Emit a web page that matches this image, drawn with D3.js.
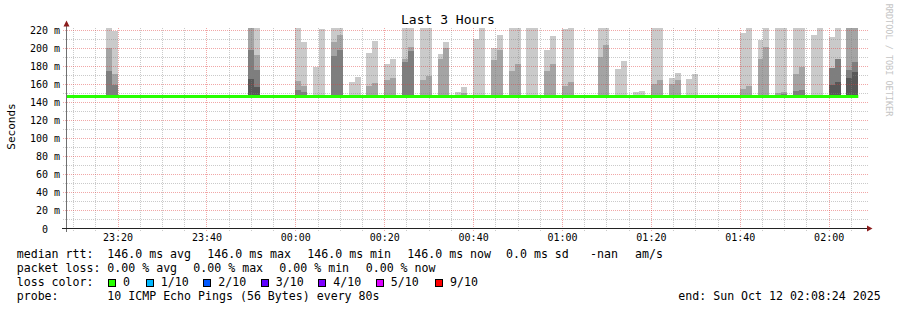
<!DOCTYPE html>
<html>
<head>
<meta charset="utf-8">
<script src="https://cdn.jsdelivr.net/npm/d3@7/dist/d3.min.js"></script>
<style>
  body { margin: 0; background: #fff; }
  svg text { font-family: 'DejaVu Sans Mono', monospace; white-space: pre; }
</style>
</head>
<body>
<div class="container"></div>
<script>
const w = 897;
const h = 310;

// time window of the graph (UTC as printed)
const startTime = '2025-10-11 23:08:24';
const endTime = '2025-10-12 02:08:24';
const dataStart = '2025-10-11 23:08:24';
const dataEnd = '2025-10-12 02:06:40';
const stepSeconds = 80;
const yMax = 222.2; // ms, top of canvas

const medianRtt = 146.0; // ms, flat over the whole window

// columns that show smoke (step start times); pings 1..5 sit on the median
const smokeTimes = [
  '2025-10-11 23:17:20', '2025-10-11 23:18:40', '2025-10-11 23:49:20', '2025-10-11 23:50:40',
  '2025-10-12 00:00:00', '2025-10-12 00:01:20', '2025-10-12 00:04:00', '2025-10-12 00:05:20',
  '2025-10-12 00:08:00', '2025-10-12 00:09:20', '2025-10-12 00:12:00', '2025-10-12 00:13:20',
  '2025-10-12 00:16:00', '2025-10-12 00:17:20', '2025-10-12 00:20:00', '2025-10-12 00:21:20',
  '2025-10-12 00:24:00', '2025-10-12 00:25:20', '2025-10-12 00:28:00', '2025-10-12 00:29:20',
  '2025-10-12 00:32:00', '2025-10-12 00:33:20', '2025-10-12 00:36:00', '2025-10-12 00:37:20',
  '2025-10-12 00:38:40', '2025-10-12 00:40:00', '2025-10-12 00:41:20', '2025-10-12 00:44:00',
  '2025-10-12 00:45:20', '2025-10-12 00:48:00', '2025-10-12 00:49:20', '2025-10-12 00:52:00',
  '2025-10-12 00:53:20', '2025-10-12 00:56:00', '2025-10-12 00:57:20', '2025-10-12 01:00:00',
  '2025-10-12 01:01:20', '2025-10-12 01:08:00', '2025-10-12 01:09:20', '2025-10-12 01:12:00',
  '2025-10-12 01:13:20', '2025-10-12 01:16:00', '2025-10-12 01:17:20', '2025-10-12 01:20:00',
  '2025-10-12 01:21:20', '2025-10-12 01:24:00', '2025-10-12 01:25:20', '2025-10-12 01:28:00',
  '2025-10-12 01:29:20', '2025-10-12 01:32:00', '2025-10-12 01:40:00', '2025-10-12 01:41:20',
  '2025-10-12 01:44:00', '2025-10-12 01:45:20', '2025-10-12 01:48:00', '2025-10-12 01:49:20',
  '2025-10-12 01:52:00', '2025-10-12 01:53:20', '2025-10-12 01:56:00', '2025-10-12 01:57:20',
  '2025-10-12 02:00:00', '2025-10-12 02:01:20', '2025-10-12 02:04:00', '2025-10-12 02:05:20'
];
const ping10 = [
  230, 219, 230, 230, 230, 206.7, 178.9, 221, 230, 230, 162.2, 167.8,
  194.4, 207.8, 182.2, 187.8, 230, 230, 230, 230, 193.3, 206.7, 151.1, 156.7,
  147.5, 210, 230, 200, 214.4, 230, 230, 230, 230, 197.8, 213.3, 221.1,
  230, 230, 230, 176.7, 185.6, 151.1, 152.2, 230, 230, 166.7, 172.2, 165.6,
  171.1, 147.8, 216.7, 230, 208.9, 230, 230, 230, 230, 230, 214.4, 230,
  212.2, 230, 230, 230
];
const ping9 = [
  200, 171, 230, 192.2, 163.3, 157.8, 146, 146, 206.7, 214.4, 146, 146,
  157.8, 161.1, 164.4, 166.7, 187.8, 201.1, 164.4, 168.9, 187.8, 200, 147.5, 150,
  146, 146, 146, 186.7, 197.8, 174.4, 182.2, 146, 146, 174.4, 182.2, 157.8,
  162.2, 190, 203.3, 146, 146, 146, 146, 160, 164.4, 160, 164.4, 146,
  146, 146, 154.4, 157.8, 187.8, 201.1, 150, 151.1, 171.1, 178.9, 146, 146,
  177.8, 187.8, 230, 230
];
const ping8 = [
  174.4, 159, 197.8, 175.6, 153.3, 151.1, 146, 146, 191.1, 197.8, 146, 146,
  146, 146, 146, 146, 184.4, 196.7, 146, 146, 146, 146, 146, 146,
  146, 146, 146, 146, 146, 146, 146, 146, 146, 146, 146, 146,
  146, 146, 146, 146, 146, 146, 146, 146, 146, 146, 146, 146,
  146, 146, 146, 146, 146, 146, 147.8, 148.9, 152.2, 153.3, 146, 146,
  177.8, 187.8, 175.6, 184.4
];
const ping7 = [
  146, 146, 165.6, 157, 146, 146, 146, 146, 146, 147, 146, 146,
  146, 146, 146, 146, 146, 146, 146, 146, 146, 146, 146, 146,
  146, 146, 146, 146, 146, 146, 146, 146, 146, 146, 146, 146,
  146, 146, 146, 146, 146, 146, 146, 146, 146, 146, 146, 146,
  146, 146, 146, 146, 146, 146, 146, 146, 146, 146, 146, 146,
  158.9, 162.2, 166.7, 173.3
];
const ping6 = smokeTimes.map(() => medianRtt);

// smoke shades from the outer ping pair to the inner one
const smokeColors = ['#cacaca', '#a4a4a4', '#7e7e7e', '#585858', '#323232'];

const yTicks = [0, 20, 40, 60, 80, 100, 120, 140, 160, 180, 200, 220];

const rttStats = [146.0, 146.0, 146.0, 146.0];
const rttStatNames = ['avg', 'max', 'min', 'now'];
const lossStats = [0, 0, 0, 0];
const lossLabels = ['0', '1/10', '2/10', '3/10', '4/10', '5/10', '9/10'];
const lossColors = ['#26ff00', '#00b8ff', '#0059ff', '#5e00ff', '#7e00ff', '#dd00ff', '#ff0000'];

const parseTime = d3.utcParse('%Y-%m-%d %H:%M:%S');
let svg = null;
let x = null;
let y = null;

window.onload = function () {
  setSvg();
  drawSmoke();
  drawGrid();
  drawMedian();
  drawAxes();
  drawLegend();
};

function setSvg() {
  svg = d3.select('.container').append('svg')
    .attr('width', w)
    .attr('height', h)
    .style('display', 'block');

  svg.append('rect').attr('width', w).attr('height', h).attr('fill', '#fff');

  x = d3.scaleUtc()
    .domain([parseTime(startTime), parseTime(endTime)])
    .range([66, 866]);
  y = d3.scaleLinear()
    .domain([0, yMax])
    .range([228, 28]);
}

function drawSmoke() {
  const pings = [ping10, ping9, ping8, ping7, ping6];
  const cols = smokeTimes.map((t, i) => {
    const t0 = parseTime(t);
    return { t0, t1: d3.utcSecond.offset(t0, stepSeconds), p: pings.map(a => a[i]) };
  });

  const g = svg.append('g').attr('shape-rendering', 'crispEdges');
  smokeColors.forEach((c, j) => {
    g.selectAll(null)
      .data(cols.filter(d => d.p[j] > medianRtt))
      .enter()
      .append('rect')
      .attr('x', d => x(d.t0))
      .attr('width', d => x(d.t1) - x(d.t0))
      .attr('y', d => y(Math.min(d.p[j], yMax)))
      .attr('height', d => y(medianRtt) - y(Math.min(d.p[j], yMax)))
      .attr('fill', c);
  });
}

// dotted grid line built from 1px squares, one every two pixels
function dotPath(horizontal, pos) {
  let d = '';
  if (horizontal) {
    for (let px = 63; px < 868; px += 2) d += 'M' + px + ',' + pos + 'h1v1h-1z';
  } else {
    for (let py = 28; py < 231; py += 2) d += 'M' + pos + ',' + py + 'h1v1h-1z';
  }
  return d;
}

function dotted(g, data, horizontal, colour) {
  g.selectAll(null).data(data).enter().append('path')
    .attr('d', d => dotPath(horizontal, horizontal ? Math.round(y(d)) : Math.round(x(d))))
    .attr('fill', colour);
}

function drawGrid() {
  const t0 = parseTime(startTime);
  const t1 = parseTime(endTime);
  const minorT = d3.utcMinute.every(5).range(t0, t1).filter(d => d.getUTCMinutes() % 20 !== 0);
  const majorT = d3.utcMinute.every(20).range(t0, t1);
  const minorV = d3.range(10, yMax, 10).filter(v => v % 20 !== 0);
  const majorV = yTicks.filter(v => v > 0);

  const minor = 'rgba(128,128,128,0.42)';
  const major = 'rgba(225,60,60,0.45)';
  const g = svg.append('g').attr('shape-rendering', 'crispEdges');
  dotted(g, minorV, true, minor);
  dotted(g, minorT, false, minor);
  dotted(g, majorV, true, major);
  dotted(g, majorT, false, major);
}

function drawMedian() {
  svg.append('line')
    .attr('x1', x(parseTime(dataStart)))
    .attr('x2', x(parseTime(dataEnd)))
    .attr('y1', y(medianRtt))
    .attr('y2', y(medianRtt))
    .attr('stroke', lossColors[0])
    .attr('stroke-width', 3);
}

function drawAxes() {
  const yAxis = d3.axisLeft(y)
    .tickValues(yTicks)
    .tickSize(0)
    .tickPadding(6)
    .tickFormat(d => (d === 0 ? '0  ' : d + ' m'));
  const gy = svg.append('g').attr('transform', 'translate(66,0)').call(yAxis);
  gy.select('.domain').remove();
  gy.selectAll('text')
    .attr('font-family', 'DejaVu Sans Mono')
    .attr('font-size', 10)
    .attr('dy', '0.4em')
    .attr('fill', '#000');

  const xAxis = d3.axisBottom(x)
    .ticks(d3.utcMinute.every(20))
    .tickSize(0)
    .tickPadding(6)
    .tickFormat(d3.utcFormat('%H:%M'));
  const gx = svg.append('g').attr('transform', 'translate(0,228)').call(xAxis);
  gx.select('.domain').remove();
  gx.selectAll('text')
    .attr('font-family', 'DejaVu Sans Mono')
    .attr('font-size', 10)
    .attr('fill', '#000');

  // axis lines and arrows
  svg.append('line')
    .attr('x1', 66.5).attr('x2', 66.5).attr('y1', 232).attr('y2', 24)
    .attr('stroke', '#707070').attr('shape-rendering', 'crispEdges');
  svg.append('line')
    .attr('x1', 62).attr('x2', 869).attr('y1', 228.5).attr('y2', 228.5)
    .attr('stroke', '#222').attr('shape-rendering', 'crispEdges');
  svg.append('path').attr('d', 'M63.5,26.5 L69.5,26.5 L66.5,20.5 Z').attr('fill', '#8b1c1c');
  svg.append('path').attr('d', 'M867,225.5 L867,231.5 L872.5,228.5 Z').attr('fill', '#8b1c1c');

  svg.append('text')
    .attr('x', 448).attr('y', 24)
    .attr('text-anchor', 'middle')
    .attr('font-size', 13)
    .text('Last 3 Hours');

  svg.append('text')
    .attr('transform', 'translate(15,126.5) rotate(-90)')
    .attr('text-anchor', 'middle')
    .attr('font-size', 11)
    .text('Seconds');

  svg.append('text')
    .attr('transform', 'translate(886,60) rotate(90)')
    .attr('text-anchor', 'middle')
    .attr('font-size', 8.5)
    .attr('fill', '#c4c4c4')
    .text('RRDTOOL / TOBI OETIKER');
}

function drawLegend() {
  const fs = 11.6;
  const rows = [257.5, 271.8, 286, 300.2];
  const put = (tx, ty, s) => svg.append('text')
    .attr('x', tx).attr('y', ty).attr('font-size', fs).attr('fill', '#000').text(s);

  put(16.7, rows[0], 'median rtt:');
  const rttX = [107.3, 207.3, 307.3, 407.3];
  rttStats.forEach((v, i) => put(rttX[i], rows[0], v.toFixed(1) + ' ms ' + rttStatNames[i]));
  put(506, rows[0], '0.0 ms sd');
  put(590, rows[0], '-nan');
  put(635, rows[0], 'am/s');

  put(16.7, rows[1], 'packet loss:');
  const lossX = [107.3, 193.3, 279.3, 365.7];
  lossStats.forEach((v, i) => put(lossX[i], rows[1], v.toFixed(2) + ' % ' + rttStatNames[i]));

  put(16.7, rows[2], 'loss color:');
  const boxX = [108, 145.7, 203.3, 260.7, 318.3, 375.7, 435];
  lossLabels.forEach((l, i) => {
    svg.append('rect')
      .attr('x', Math.round(boxX[i]) + 0.5).attr('y', 279.5)
      .attr('width', 7).attr('height', 7)
      .attr('fill', lossColors[i])
      .attr('stroke', '#000').attr('stroke-width', 1);
    put(boxX[i] + 15, rows[2], l);
  });

  put(16.7, rows[3], 'probe:');
  put(107.3, rows[3], '10 ICMP Echo Pings (56 Bytes) every 80s');
  put(678.3, rows[3], 'end: Sun Oct 12 02:08:24 2025');
}
</script>
</body>
</html>
